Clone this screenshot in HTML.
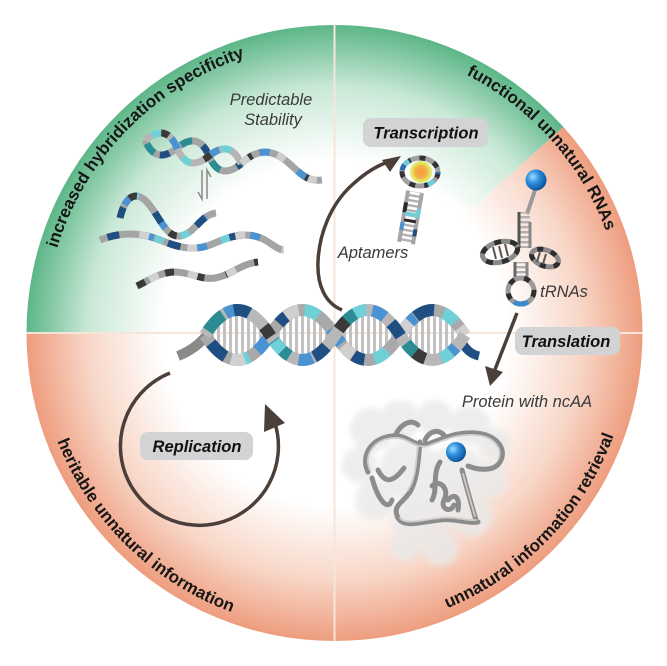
<!DOCTYPE html>
<html><head><meta charset="utf-8"><style>html,body{margin:0;padding:0;background:#fff}svg{display:block}</style></head>
<body>
<svg width="667" height="666" viewBox="0 0 667 666" font-family="'Liberation Sans', Arial, sans-serif">
<defs>
<radialGradient id="gG" gradientUnits="userSpaceOnUse" cx="334.5" cy="333" r="308">
<stop offset="0" stop-color="#ffffff"/><stop offset="0.56" stop-color="#ffffff"/><stop offset="0.8" stop-color="#c9e8d6"/><stop offset="1" stop-color="#5cb687"/>
</radialGradient>
<radialGradient id="gS" gradientUnits="userSpaceOnUse" cx="334.5" cy="333" r="308">
<stop offset="0" stop-color="#ffffff"/><stop offset="0.56" stop-color="#ffffff"/><stop offset="0.8" stop-color="#f8d7c8"/><stop offset="1" stop-color="#ee9d7e"/>
</radialGradient>
<radialGradient id="gB" cx="0.35" cy="0.35" r="0.7">
<stop offset="0" stop-color="#9fdcff"/><stop offset="0.45" stop-color="#2a8fdc"/><stop offset="1" stop-color="#0b4f96"/>
</radialGradient>
<radialGradient id="gY" cx="0.5" cy="0.5" r="0.5">
<stop offset="0" stop-color="#f59a3c"/><stop offset="0.55" stop-color="#f4b04a"/><stop offset="0.8" stop-color="#e4e65a"/><stop offset="1" stop-color="#d9ec80"/>
</radialGradient>
<pattern id="vs" width="6" height="20" patternUnits="userSpaceOnUse"><rect x="1" y="0" width="3" height="20" fill="#c2c2c2"/></pattern>
<pattern id="hs" width="20" height="5" patternUnits="userSpaceOnUse"><rect x="0" y="1" width="20" height="2.4" fill="#b0b0b0"/></pattern>
<filter id="bl" x="-20%" y="-20%" width="140%" height="140%"><feGaussianBlur stdDeviation="3"/></filter>
<path id="tTop" d="M44.5,333 A290,290 0 0 1 624.5,333"/>
<path id="tBot" d="M37,333 A297.5,297.5 0 0 0 632,333"/>
<path id="dA" d="M205,335 Q237.5,285 270,335 T335,335 T400,335 T465,335"/>
<path id="dB" d="M205,335 Q237.5,385 270,335 T335,335 T400,335 T465,335"/>
<path id="pA" d="M145,140 Q161.5,118 178,140 T211,140 T244,140"/>
<path id="pB" d="M145,140 Q161.5,162 178,140 T211,140 T244,140"/>
<path id="s1" d="M241,164 C255,150 270,148 285,160 S305,182 322,180"/>
<path id="s2" d="M120,218 C124,200 133,190 145,200 C158,212 165,238 180,236 C195,234 200,215 216,213"/>
<path id="s3" d="M100,240 C120,232 140,232 160,240 C180,248 195,252 215,243 C235,234 250,232 265,240 C272,244 278,250 284,250"/>
<path id="s4" d="M137,286 C150,280 160,272 175,272 C190,272 200,280 215,278 C232,275 240,264 258,262"/>
</defs>
<rect width="667" height="666" fill="#fff"/>

<!-- sectors -->
<path d="M334.5,333 L26.5,333 A308,308 0 0 1 334.5,25 Z" fill="url(#gG)"/>
<path d="M334.5,333 L334.5,25 A308,308 0 0 1 563.4,126.9 Z" fill="url(#gG)"/>
<path d="M334.5,333 L563.4,126.9 A308,308 0 0 1 642.5,333 Z" fill="url(#gS)"/>
<path d="M26.5,333 A308,308 0 0 0 642.5,333 Z" fill="url(#gS)"/>
<line x1="334.5" y1="25" x2="334.5" y2="641" stroke="#f6e6da" stroke-width="2"/>
<line x1="26.5" y1="333" x2="642.5" y2="333" stroke="#f6e6da" stroke-width="2"/>

<!-- arc texts -->
<g font-weight="bold" font-size="17" fill="#161616">
<text><textPath href="#tTop" startOffset="24.7%" text-anchor="middle">increased hybridization specificity</textPath></text>
<text><textPath href="#tTop" startOffset="76.8%" text-anchor="middle">functional unnatural RNAs</textPath></text>
<text><textPath href="#tBot" startOffset="25.3%" text-anchor="middle">heritable unnatural information</textPath></text>
<text><textPath href="#tBot" startOffset="75.6%" text-anchor="middle">unnatural information retrieval</textPath></text>
</g>

<!-- top-left duplex -->
<g transform="rotate(14 145 140)" fill="none">
<path d="M145,140 Q161.5,118 178,140 T211,140 T244,140 Q227.5,118 211,140 T178,140 T145,140 Z" fill="url(#vs)"/>
<use href="#pB" stroke="#a5a5a5" stroke-width="7"/>
<use href="#pB" stroke="#2b8c93" stroke-width="7" stroke-dasharray="12 30" stroke-dashoffset="-4"/>
<use href="#pB" stroke="#1f4f82" stroke-width="7" stroke-dasharray="10 38" stroke-dashoffset="-22"/>
<use href="#pA" stroke="#b5b5b5" stroke-width="7"/>
<use href="#pA" stroke="#6fd0d8" stroke-width="7" stroke-dasharray="10 34" stroke-dashoffset="-8"/>
<use href="#pA" stroke="#4b92d3" stroke-width="7" stroke-dasharray="12 40" stroke-dashoffset="-30"/>
<use href="#pA" stroke="#3a3a3a" stroke-width="7" stroke-dasharray="8 50" stroke-dashoffset="-18"/>
</g>
<g fill="none" stroke-width="7">
<use href="#s1" stroke="#a5a5a5"/>
<use href="#s1" stroke="#3a3a3a" stroke-dasharray="8 26" stroke-dashoffset="-6"/>
<use href="#s1" stroke="#4b92d3" stroke-dasharray="10 34" stroke-dashoffset="-22"/>
<use href="#s1" stroke="#cfcfcf" stroke-dasharray="9 30" stroke-dashoffset="-40"/>
<use href="#s2" stroke="#a5a5a5"/>
<use href="#s2" stroke="#4b92d3" stroke-dasharray="10 40" stroke-dashoffset="-14"/>
<use href="#s2" stroke="#1f4f82" stroke-dasharray="12 44" stroke-dashoffset="-55"/>
<use href="#s2" stroke="#6fd0d8" stroke-dasharray="9 60" stroke-dashoffset="-92"/>
<use href="#s2" stroke="#3a3a3a" stroke-dasharray="8 50" stroke-dashoffset="-80"/>
<use href="#s3" stroke="#a5a5a5"/>
<use href="#s3" stroke="#3a3a3a" stroke-dasharray="10 55" stroke-dashoffset="-8"/>
<use href="#s3" stroke="#1f4f82" stroke-dasharray="12 50" stroke-dashoffset="-70"/>
<use href="#s3" stroke="#4b92d3" stroke-dasharray="10 45" stroke-dashoffset="-100"/>
<use href="#s3" stroke="#6fd0d8" stroke-dasharray="9 60" stroke-dashoffset="-125"/>
<use href="#s3" stroke="#d0d0d0" stroke-dasharray="10 40" stroke-dashoffset="-40"/>
<use href="#s4" stroke="#a0a0a0"/>
<use href="#s4" stroke="#3a3a3a" stroke-dasharray="9 22" stroke-dashoffset="0"/>
<use href="#s4" stroke="#d2d2d2" stroke-dasharray="10 30" stroke-dashoffset="-14"/>
</g>
<!-- equilibrium arrows -->
<g stroke="#8a8a8a" stroke-width="1.5" fill="none">
<path d="M202,170 L202,199 L198,192"/>
<path d="M207,199 L207,170 L211,177"/>
</g>
<g font-style="italic" font-size="16.5" fill="#3a3a3a" text-anchor="middle">
<text x="271" y="105">Predictable</text>
<text x="273" y="125">Stability</text>
</g>

<!-- aptamer -->
<g transform="translate(406 243) rotate(10)">
<rect x="-7" y="-52" width="14" height="52" fill="url(#hs)"/>
<line x1="-7" y1="0" x2="-7" y2="-52" stroke="#a5a5a5" stroke-width="4"/>
<line x1="7" y1="0" x2="7" y2="-52" stroke="#a5a5a5" stroke-width="4"/>
<line x1="-7" y1="-40" x2="-7" y2="-30" stroke="#2a2a2a" stroke-width="4"/>
<line x1="-7" y1="-20" x2="-7" y2="-12" stroke="#4b92d3" stroke-width="4"/>
<line x1="7" y1="-36" x2="7" y2="-27" stroke="#6fd0d8" stroke-width="4"/>
<line x1="7" y1="-15" x2="7" y2="-8" stroke="#1f4f82" stroke-width="4"/>
<rect x="-6" y="-31" width="12" height="4" fill="#6fd0d8"/>
<rect x="-6" y="-24" width="12" height="3" fill="#2a2a2a"/>
</g>
<ellipse cx="420" cy="172" rx="18" ry="14" fill="none" stroke="#a0a0a0" stroke-width="5"/>
<ellipse cx="420" cy="172" rx="18" ry="14" fill="none" stroke="#333" stroke-width="5" stroke-dasharray="6 9"/>
<ellipse cx="420" cy="172" rx="18" ry="14" fill="none" stroke="#6fd0d8" stroke-width="5" stroke-dasharray="7 40" stroke-dashoffset="-10"/>
<ellipse cx="420" cy="172" rx="18" ry="14" fill="none" stroke="#2e6fb0" stroke-width="5" stroke-dasharray="6 50" stroke-dashoffset="-52"/>
<circle cx="421" cy="172" r="11" fill="url(#gY)"/>
<text x="373" y="258" font-style="italic" font-size="16.5" fill="#3a3a3a" text-anchor="middle">Aptamers</text>

<!-- tRNA -->
<g fill="none">
<line x1="535" y1="190" x2="527" y2="214" stroke="#9a9a9a" stroke-width="4"/>
<rect x="519" y="212" width="11" height="36" fill="url(#hs)"/>
<line x1="519" y1="212" x2="519" y2="248" stroke="#555" stroke-width="3"/>
<line x1="530" y1="222" x2="530" y2="248" stroke="#888" stroke-width="3"/>
<ellipse cx="500" cy="252" rx="18" ry="10" transform="rotate(-15 500 252)" stroke="#8a8a8a" stroke-width="5"/>
<ellipse cx="500" cy="252" rx="18" ry="10" transform="rotate(-15 500 252)" stroke="#2e2e2e" stroke-width="5" stroke-dasharray="7 9"/>
<g stroke="#555" stroke-width="2"><line x1="493" y1="247" x2="496" y2="259"/><line x1="499" y1="246" x2="502" y2="258"/><line x1="505" y1="244" x2="508" y2="256"/></g>
<ellipse cx="545" cy="258" rx="14" ry="8" transform="rotate(20 545 258)" stroke="#8a8a8a" stroke-width="5"/>
<ellipse cx="545" cy="258" rx="14" ry="8" transform="rotate(20 545 258)" stroke="#2e2e2e" stroke-width="5" stroke-dasharray="6 8"/>
<g stroke="#555" stroke-width="2"><line x1="540" y1="252" x2="537" y2="262"/><line x1="546" y1="254" x2="543" y2="264"/></g>
<rect x="515" y="262" width="12" height="16" fill="url(#hs)"/>
<line x1="515" y1="262" x2="515" y2="279" stroke="#666" stroke-width="3"/>
<line x1="527" y1="262" x2="527" y2="279" stroke="#888" stroke-width="3"/>
<circle cx="521" cy="291" r="13" stroke="#9a9a9a" stroke-width="5"/>
<circle cx="521" cy="291" r="13" stroke="#2e2e2e" stroke-width="5" stroke-dasharray="6 10"/>
<path d="M514,302 A13,13 0 0 0 528,302" stroke="#3a8ad0" stroke-width="5"/>
</g>
<circle cx="536" cy="180" r="10.5" fill="url(#gB)"/>
<text x="564" y="297" font-style="italic" font-size="16.5" fill="#3a3a3a" text-anchor="middle">tRNAs</text>

<!-- central DNA -->
<path d="M205,335 Q237.5,285 270,335 T335,335 T400,335 T465,335 Q432.5,285 400,335 T335,335 T270,335 T205,335 Z" fill="url(#vs)"/>
<g fill="none">
<path d="M178,356 C188,352 198,346 206,336" stroke="#8a8a8a" stroke-width="10"/>
<path d="M460,338 C464,348 470,354 479,356" stroke="#1f4f82" stroke-width="9"/>
<use href="#dB" stroke="#a9a9a9" stroke-width="12"/>
<use href="#dB" stroke="#1f4f82" stroke-width="12" stroke-dasharray="20 70" stroke-dashoffset="-10"/>
<use href="#dB" stroke="#6fd0d8" stroke-width="12" stroke-dasharray="15 75" stroke-dashoffset="-40"/>
<use href="#dB" stroke="#4b92d3" stroke-width="12" stroke-dasharray="18 80" stroke-dashoffset="-65"/>
<use href="#dB" stroke="#d0d0d0" stroke-width="12" stroke-dasharray="14 60" stroke-dashoffset="-110"/>
<use href="#dA" stroke="#b8b8b8" stroke-width="12"/>
<use href="#dA" stroke="#2b8c93" stroke-width="12" stroke-dasharray="22 65" stroke-dashoffset="-5"/>
<use href="#dA" stroke="#4b92d3" stroke-width="12" stroke-dasharray="14 80" stroke-dashoffset="-30"/>
<use href="#dA" stroke="#3a3a3a" stroke-width="12" stroke-dasharray="12 90" stroke-dashoffset="-75"/>
<use href="#dA" stroke="#1f4f82" stroke-width="12" stroke-dasharray="16 85" stroke-dashoffset="-140"/>
<use href="#dA" stroke="#6fd0d8" stroke-width="12" stroke-dasharray="12 95" stroke-dashoffset="-200"/>
</g>

<!-- arrows -->
<g stroke="#4b3f3a" stroke-width="3.5" fill="none">
<path d="M170,373 A79,79 0 1 0 275.5,425"/>
<path d="M342,310 C325,303 317,285 318,262 C319,235 330,205 352,185 C365,173 376,166 388,162"/>
<line x1="517" y1="313" x2="494" y2="372"/>
</g>
<g fill="#4b3f3a">
<polygon points="265,404 264,432 285,423"/>
<polygon points="401,156 382,160 390,172"/>
<polygon points="490,386 485,366 503,372"/>
</g>

<!-- labels -->
<g fill="#d1d3d5">
<rect x="363" y="118" width="125" height="29" rx="8"/>
<rect x="140" y="432" width="113" height="28" rx="8"/>
<rect x="515" y="327" width="105" height="28" rx="8"/>
</g>
<g font-weight="bold" font-style="italic" font-size="16.5" fill="#111" text-anchor="middle">
<text x="426" y="138.5">Transcription</text>
<text x="197" y="452">Replication</text>
<text x="566" y="347">Translation</text>
</g>

<!-- protein -->
<g filter="url(#bl)" fill="#e9e9e9" opacity="0.8">
<circle cx="372" cy="430" r="22"/>
<circle cx="400" cy="420" r="20"/>
<circle cx="435" cy="418" r="18"/>
<circle cx="470" cy="425" r="20"/>
<circle cx="495" cy="445" r="16"/>
<circle cx="490" cy="480" r="18"/>
<circle cx="360" cy="465" r="18"/>
<circle cx="375" cy="500" r="20"/>
<circle cx="410" cy="470" r="30"/>
<circle cx="455" cy="475" r="30"/>
<circle cx="420" cy="520" r="28"/>
<circle cx="470" cy="515" r="22"/>
<circle cx="440" cy="548" r="18"/>
<circle cx="405" cy="548" r="14"/>
</g>
<g fill="none" stroke-linecap="round" stroke-linejoin="round">
<g stroke="#8c8c8c" stroke-width="5">
<path d="M368,472 C360,455 372,438 392,436 C408,434 414,448 428,444 C445,438 455,432 475,433 C495,434 508,448 500,462 C494,472 478,470 468,466"/>
<path d="M420,442 C418,460 418,478 410,492 C402,504 392,505 398,518 C404,528 420,522 440,520 C455,518 468,524 478,522"/>
<path d="M462,470 C466,485 470,500 476,520"/>
<path d="M378,470 C386,486 395,480 404,468"/>
<path d="M432,486 C440,478 450,490 444,500 C440,508 450,514 454,505"/>
<path d="M395,436 C400,425 410,418 418,425"/>
<path d="M440,462 C432,474 438,490 432,500"/>
<path d="M372,478 C378,500 388,512 392,500"/>
<path d="M425,440 C430,430 440,428 446,438"/>
<path d="M448,500 C455,492 460,498 458,510"/>
</g>
<g stroke="#cdcdcd" stroke-width="1.8">
<path d="M370,470 C363,455 374,440 392,438 C408,436 414,449 428,446 C445,440 455,434 475,435 C493,436 504,448 498,460"/>
<path d="M418,446 C416,462 416,478 408,490"/>
<path d="M400,518 C406,525 420,520 440,518 C455,516 466,521 476,520"/>
<path d="M463,474 C467,488 470,500 475,516"/>
</g>
</g>
<circle cx="456" cy="452" r="10" fill="url(#gB)"/>
<text x="527" y="407" font-style="italic" font-size="16.5" fill="#3a3a3a" text-anchor="middle">Protein with ncAA</text>
</svg>
</body></html>
